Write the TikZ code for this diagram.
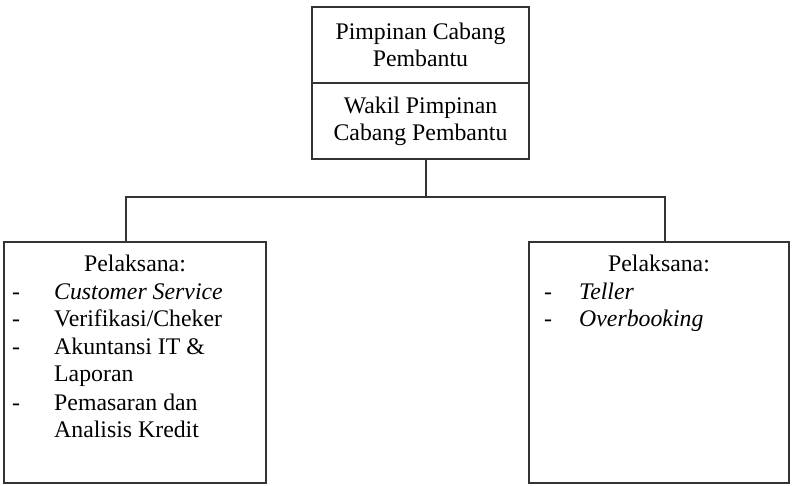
\documentclass[tikz,border=0pt]{standalone}
\usepackage{fontspec}
\setmainfont{Liberation Serif}
\usetikzlibrary{positioning}

\begin{document}
\begin{tikzpicture}[
  x = 1pt, y = -1pt,
  every node/.style = {font = \fontsize{23.8}{27.2}\selectfont},
  unit/.style = {
    rectangle, draw = black!80, line width = 1.2pt,
    align = center, inner sep = 0pt, outer sep = 0pt,
    minimum width = 217pt, minimum height = 76pt
  },
  staffbox/.style = {
    rectangle, draw = black!80, line width = 1.2pt,
    outer sep = 0pt, minimum height = 241pt
  },
  item/.style = {anchor = base west, inner sep = 0pt},
  link/.style = {draw = black!80, line width = 1.2pt}
]
  \useasboundingbox (0,0) rectangle (793,486);

  % Pimpinan
  \node[unit] (pcp) at (420.5,45) {Pimpinan Cabang\\Pembantu};
  \node[unit] (wpcp) [below=0pt of pcp] {Wakil Pimpinan\\Cabang Pembantu};

  % Pelaksana
  \node[staffbox, minimum width = 262pt] (kiri) at (135,362.5) {};
  \node[staffbox, minimum width = 260pt] (kanan) at (659,362.5) {};

  % Garis
  \coordinate (turun) at (426,197);
  \coordinate (cabL) at (126,197);
  \coordinate (cabR) at (665,197);
  \draw[link] (turun |- wpcp.south) -- (turun);
  \draw[link] (cabL |- kiri.north) -- (cabL) -- (cabR) -- (cabR |- kanan.north);

  % Isi kiri
  \node[anchor = base, inner sep = 0pt] (kiri-judul) at (135,272) {Pelaksana:};
  \node[item] (kd1) at (12,300) {-};
  \node[item] (kd2) at (12,327) {-};
  \node[item] (kd3) at (12,355) {-};
  \node[item] (kd4) at (12,410) {-};
  \node[item] (kt1) at (54,300) {\itshape Customer Service};
  \node[item] (kt2) at (54,327) {Verifikasi/Cheker};
  \node[item] (kt3) at (54,355) {Akuntansi IT \&};
  \node[item] (kt3b) at (54,382) {Laporan};
  \node[item] (kt4) at (54,410) {Pemasaran dan};
  \node[item] (kt4b) at (54,437) {Analisis Kredit};

  % Isi kanan
  \node[anchor = base, inner sep = 0pt] (kanan-judul) at (659,272) {Pelaksana:};
  \node[item] (nd1) at (544,300) {-};
  \node[item] (nd2) at (544,327) {-};
  \node[item] (nt1) at (579,300) {\itshape Teller};
  \node[item] (nt2) at (579,327) {\itshape Overbooking};
\end{tikzpicture}
\end{document}
